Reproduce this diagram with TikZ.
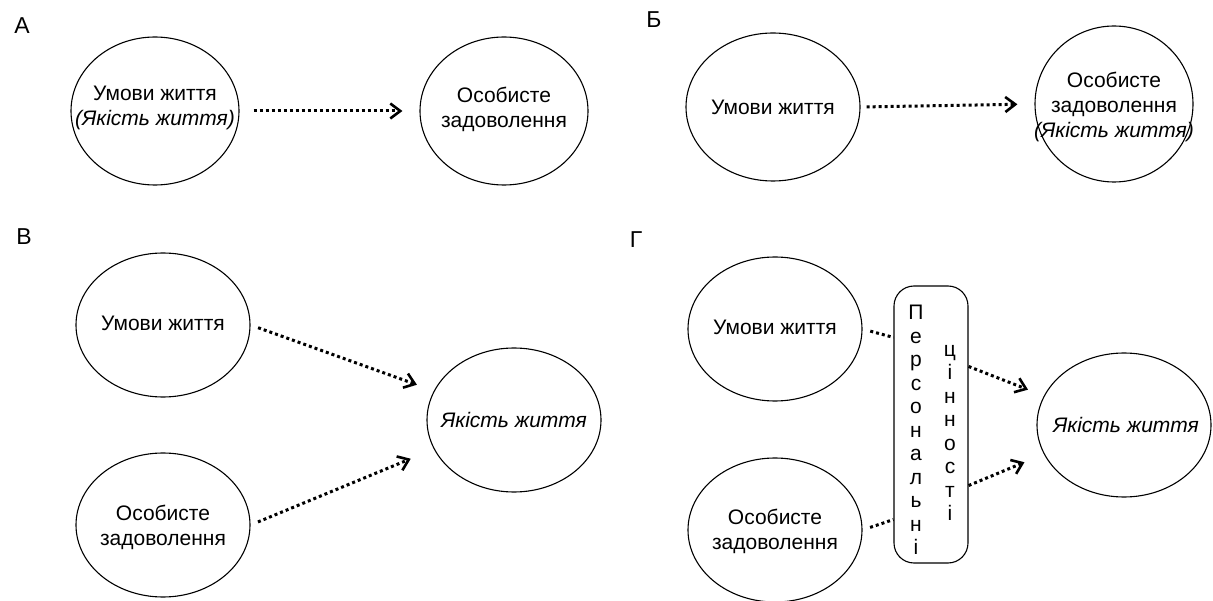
\documentclass[tikz,border=0pt]{standalone}
\usepackage{fontspec}
\setmainfont{Liberation Sans}
\usetikzlibrary{arrows.meta,shapes.geometric,calc}
\begin{document}
\begin{tikzpicture}[x=1pt,y=-1pt,
  ell/.style={draw, ellipse, line width=1.1pt, inner sep=0pt, minimum width=174pt, minimum height=144pt},
  txt/.style={align=center, font=\fontsize{21}{25}\selectfont, inner sep=0pt},
  lab/.style={font=\fontsize{23}{24}\selectfont, inner sep=0pt},
  col/.style={align=center, font=\fontsize{21}{23.5}\selectfont, inner sep=0pt},
  dotline/.style={line width=3pt, dash pattern=on 3pt off 3pt},
  dotarrow/.style={dotline, -{Straight Barb[length=10pt,width=15pt,line width=2.6pt]}},
]
\useasboundingbox (0,0) rectangle (1213,601);

% ---- Panel A
\node[lab] (labA) at (22,26) {А};
\node[ell, minimum width=168pt, minimum height=148pt] (A1) at (155,111) {};
\node[txt] (tA1) at (155,108) {Умови життя\\\textit{(Якість життя)}};
\node[ell, minimum width=168pt, minimum height=148pt] (A2) at (504,111) {};
\node[txt] (tA2) at (504,109) {Особисте\\задоволення};
\draw[dotarrow, shorten <=14pt, shorten >=17pt] (A1.east) -- (A2.west);

% ---- Panel B
\node[lab] (labB) at (654,20) {Б};
\node[ell, minimum height=148pt] (B1) at (773,107) {};
\node[txt] (tB1) at (773,107) {Умови життя};
\node[ell, minimum width=158pt, minimum height=156pt] (B2) at (1114,104) {};
\node[txt] (tB2) at (1114,107) {Особисте\\задоволення\\\textit{(Якість життя)}};
\draw[dotarrow, shorten <=6pt, shorten >=17pt] (B1.east) -- (B2.west);

% ---- Panel V
\node[lab] (labV) at (24,237) {В};
\node[ell] (V1) at (163,325) {};
\node[txt] (tV1) at (163,323) {Умови життя};
\node[ell] (V2) at (163,525) {};
\node[txt] (tV2) at (163,527) {Особисте\\задоволення};
\node[ell] (V3) at (514,420) {};
\node[txt] (tV3) at (514,420) {\textit{Якість життя}};
\draw[dotarrow, shorten <=8pt, shorten >=18pt] (V1.east) -- (V3.160);
\draw[dotarrow, shorten <=8pt, shorten >=25pt] (V2.east) -- (V3.200);

% ---- Panel G
\node[lab] (labG) at (636,240) {Г};
\node[ell] (G1) at (775,329) {};
\node[txt] (tG1) at (775,327) {Умови життя};
\node[ell] (G2) at (775,530) {};
\node[txt] (tG2) at (775,531) {Особисте\\задоволення};
\node[ell] (G3) at (1124,425) {};
\node[txt] (tG3) at (1126,425) {\textit{Якість життя}};
\node[draw, rounded corners=20pt, line width=1.1pt, minimum width=74pt, minimum height=277pt, inner sep=0pt] (box) at (931,424.5) {};
\node[col] (c1) at (916,430) {П\\е\\р\\с\\о\\н\\а\\л\\ь\\н\\і};
\node[col] (c2) at (950,433) {ц\\і\\н\\н\\о\\с\\т\\і};
\draw[dotline, shorten <=8pt] (G1.east) -- ([yshift=-52pt]box.north west);
\draw[dotline, shorten <=8pt] (G2.east) -- ([yshift=44pt]box.south west);
\draw[dotarrow, shorten >=17pt] ([yshift=-81pt]box.north east) -- (G3.160);
\draw[dotarrow, shorten >=21pt] ([yshift=78pt]box.south east) -- (G3.200);
\end{tikzpicture}
\end{document}
